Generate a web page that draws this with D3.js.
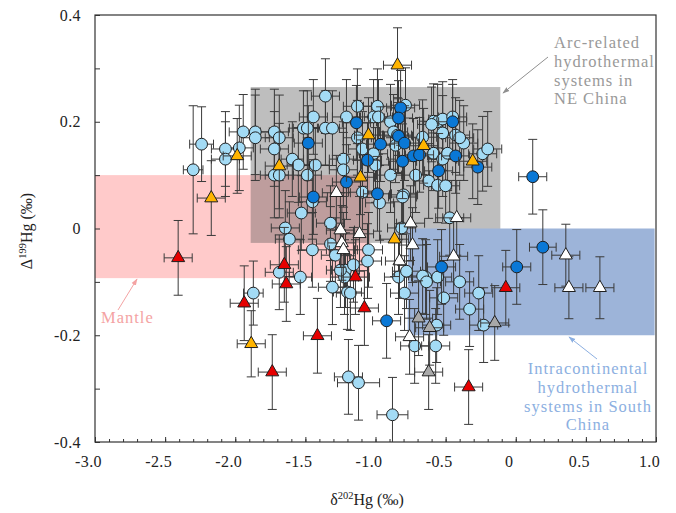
<!DOCTYPE html>
<html>
<head>
<meta charset="utf-8">
<script src="https://cdn.jsdelivr.net/npm/d3@7"></script>
<style>
  body { margin: 0; background: #fff; }
  svg { display: block; font-family: "Liberation Serif", "Times New Roman", serif; }
</style>
</head>
<body>
<div id="chart"></div>
<script>
// ---- data (delta202Hg, Delta199Hg, x error, y error) ----
var lightBlue = [
  [-2.24, 0.158, 0.085, 0.07], [-2.30, 0.110, 0.07, 0.12], [-2.07, 0.149, 0.10, 0.07], [-2.07, 0.130, 0.10, 0.07],
  [-1.943, 0.181, 0.10, 0.07], [-1.971, 0.151, 0.10, 0.08], [-1.857, 0.181, 0.10, 0.08], [-1.857, 0.170, 0.10, 0.08],
  [-1.721, 0.181, 0.10, 0.08], [-1.686, 0.170, 0.10, 0.08], [-1.721, 0.149, 0.10, 0.07], [-1.721, 0.100, 0.10, 0.08],
  [-1.686, 0.100, 0.10, 0.08], [-1.593, 0.130, 0.08, 0.07], [-1.55, 0.119, 0.08, 0.07], [-1.357, 0.248, 0.10, 0.07],
  [-1.443, 0.209, 0.10, 0.07], [-1.514, 0.188, 0.10, 0.07], [-1.486, 0.188, 0.10, 0.07], [-1.357, 0.188, 0.10, 0.07],
  [-1.307, 0.188, 0.10, 0.07], [-1.429, 0.119, 0.10, 0.07], [-1.486, 0.100, 0.10, 0.07], [-1.207, 0.209, 0.10, 0.07],
  [-1.229, 0.130, 0.10, 0.07], [-1.229, 0.110, 0.10, 0.07], [-1.129, 0.229, 0.10, 0.07], [-0.986, 0.229, 0.10, 0.07],
  [-1.014, 0.209, 0.10, 0.07], [-0.979, 0.209, 0.10, 0.07], [-0.786, 0.231, 0.10, 0.07], [-0.893, 0.200, 0.10, 0.07],
  [-0.871, 0.181, 0.10, 0.07], [-0.843, 0.175, 0.10, 0.07], [-0.586, 0.201, 0.10, 0.07], [-0.557, 0.200, 0.10, 0.07],
  [-0.521, 0.205, 0.10, 0.07], [-0.45, 0.209, 0.10, 0.07], [-0.521, 0.179, 0.10, 0.07], [-0.429, 0.175, 0.10, 0.07],
  [-0.371, 0.160, 0.10, 0.07], [-0.40, 0.170, 0.10, 0.07], [-1.129, 0.170, 0.10, 0.07], [-1.093, 0.149, 0.10, 0.07],
  [-1.014, 0.140, 0.10, 0.07], [-1.0, 0.119, 0.10, 0.07], [-0.893, 0.100, 0.10, 0.07], [-0.857, 0.156, 0.10, 0.07],
  [-0.714, 0.100, 0.10, 0.07], [-0.664, 0.171, 0.10, 0.07], [-0.621, 0.089, 0.10, 0.07], [-0.586, 0.141, 0.10, 0.07],
  [-0.521, 0.130, 0.10, 0.07], [-0.486, 0.141, 0.10, 0.07], [-0.557, 0.081, 0.10, 0.07], [-0.50, 0.080, 0.10, 0.07],
  [-0.236, 0.140, 0.10, 0.07], [-0.20, 0.149, 0.10, 0.07], [-0.80, 0.063, 0.10, 0.07], [-1.093, 0.068, 0.10, 0.07],
  [-0.60, 0.195, 0.10, 0.07], [-1.529, 0.029, 0.10, 0.07], [-1.643, 0.001, 0.10, 0.07], [-1.614, -0.020, 0.10, 0.07],
  [-1.321, 0.010, 0.10, 0.07], [-1.321, -0.029, 0.10, 0.07], [-1.286, -0.050, 0.10, 0.07], [-1.45, -0.040, 0.10, 0.07],
  [-1.686, -0.082, 0.10, 0.07], [-1.536, -0.091, 0.08, 0.07], [-1.307, -0.110, 0.10, 0.07], [-1.214, -0.078, 0.10, 0.07],
  [-1.221, -0.091, 0.10, 0.07], [-1.20, -0.119, 0.10, 0.07], [-1.871, -0.121, 0.07, 0.06], [-1.45, 0.050, 0.10, 0.07],
  [-0.971, 0.048, 0.10, 0.07], [-0.807, 0.059, 0.10, 0.07], [-0.471, 0.020, 0.10, 0.07], [-0.814, 0.001, 0.10, 0.07],
  [-1.05, -0.040, 0.10, 0.07], [-1.057, -0.061, 0.10, 0.07], [-1.157, -0.068, 0.10, 0.07], [-1.25, -0.078, 0.10, 0.07],
  [-0.836, -0.091, 0.10, 0.07], [-0.779, -0.080, 0.10, 0.07], [-0.643, -0.091, 0.10, 0.07], [-0.664, -0.089, 0.10, 0.07],
  [-0.557, -0.091, 0.10, 0.07], [-0.636, -0.100, 0.10, 0.07], [-0.40, -0.100, 0.10, 0.07], [-1.179, -0.121, 0.10, 0.07],
  [-0.793, -0.121, 0.10, 0.07], [-0.514, -0.130, 0.10, 0.07], [-0.264, -0.121, 0.10, 0.07], [-0.329, -0.151, 0.10, 0.07],
  [-0.229, -0.181, 0.10, 0.07], [-0.564, -0.181, 0.10, 0.07], [-0.721, -0.220, 0.10, 0.07], [-0.571, -0.220, 0.10, 0.07],
  [-1.193, -0.278, 0.10, 0.07], [-1.121, -0.289, 0.15, 0.07], [-0.879, -0.349, 0.11, 0.07]
];
var darkBlue = [
  [-1.479, 0.160, 0.10, 0.07], [-1.443, 0.059, 0.10, 0.07], [-1.207, 0.087, 0.10, 0.07], [-1.136, 0.198, 0.10, 0.07],
  [-0.821, 0.226, 0.10, 0.07], [-0.836, 0.207, 0.10, 0.07], [-0.836, 0.173, 0.10, 0.07], [-0.793, 0.160, 0.10, 0.07],
  [-0.964, 0.158, 0.10, 0.07], [-1.057, 0.128, 0.10, 0.07], [-0.807, 0.126, 0.10, 0.07], [-0.729, 0.136, 0.10, 0.07],
  [-0.686, 0.138, 0.10, 0.07], [-0.45, 0.200, 0.10, 0.07], [-0.429, 0.136, 0.10, 0.07], [-0.55, 0.108, 0.10, 0.07],
  [-0.271, 0.115, 0.10, 0.07], [-0.986, 0.065, 0.10, 0.07], [0.121, 0.097, 0.10, 0.07], [0.193, -0.035, 0.095, 0.07],
  [0.007, -0.072, 0.10, 0.07], [-0.529, -0.072, 0.10, 0.07], [-0.921, -0.173, 0.10, 0.07]
];
var orangeTri = [
  [-1.986, 0.136, 0.10, 0.07], [-2.171, 0.057, 0.10, 0.07], [-1.686, 0.117, 0.10, 0.08], [-0.843, 0.306, 0.10, 0.07],
  [-1.05, 0.175, 0.10, 0.07], [-0.657, 0.155, 0.10, 0.07], [-0.307, 0.126, 0.10, 0.07], [-1.107, 0.096, 0.10, 0.07],
  [-0.864, -0.020, 0.10, 0.07], [-1.886, -0.216, 0.10, 0.062]
];
var redTri = [
  [-2.407, -0.055, 0.10, 0.07], [-1.65, -0.068, 0.10, 0.07], [-1.636, -0.104, 0.10, 0.07], [-1.936, -0.140, 0.10, 0.07],
  [-1.414, -0.201, 0.10, 0.07], [-1.736, -0.269, 0.10, 0.07], [-1.143, -0.091, 0.10, 0.07], [-1.079, -0.149, 0.10, 0.07],
  [-0.071, -0.111, 0.10, 0.07], [-0.336, -0.297, 0.10, 0.07]
];
var whiteTri = [
  [-1.279, 0.067, 0.10, 0.07], [-1.25, -0.003, 0.10, 0.07], [-1.114, -0.010, 0.10, 0.07], [-1.24, -0.027, 0.10, 0.07],
  [-1.229, -0.040, 0.10, 0.07], [-0.443, -0.052, 0.10, 0.07], [-0.75, 0.010, 0.10, 0.07], [-0.736, -0.031, 0.10, 0.07],
  [-0.829, -0.061, 0.10, 0.07], [-0.757, -0.203, 0.10, 0.07], [-0.421, 0.020, 0.10, 0.07], [0.357, -0.050, 0.10, 0.058],
  [0.379, -0.111, 0.10, 0.058], [0.60, -0.111, 0.10, 0.058]
];
var greyTri = [
  [-0.693, -0.168, 0.10, 0.07], [-0.614, -0.186, 0.10, 0.07], [-0.15, -0.177, 0.10, 0.07], [-0.621, -0.269, 0.10, 0.07]
];

// field boxes [x0, x1, y0, y1]
var mantleBox = [-3.0, -1.04, -0.093, 0.10];
var arcBox = [-1.89, -0.11, -0.027, 0.265];
var southBox = [-0.77, 0.99, -0.20, 0.0];

var xTickValues = [-3, -2.5, -2, -1.5, -1, -0.5, 0, 0.5, 1];
var xTickLabels = ["-3.0", "-2.5", "-2.0", "-1.5", "-1.0", "-0.5", "0", "0.5", "1.0"];
var yTickValues = [-0.4, -0.2, 0, 0.2, 0.4];
var yTickLabels = ["-0.4", "-0.2", "0", "0.2", "0.4"];

var arcLines = ["Arc-related", "hydrothermal", "systems in", "NE China"];
var southLines = ["Intracontinental", "hydrothermal", "systems in South", "China"];

// ---- chart ----
var width = 676, height = 513;
var x = d3.scaleLinear().domain([-3, 1]).range([95, 656]);
var y = d3.scaleLinear().domain([-0.4, 0.4]).range([442, 15]);

var svg = d3.select("#chart").append("svg")
    .attr("width", width)
    .attr("height", height);

var defs = svg.append("defs");
defs.append("clipPath").attr("id", "plotClip")
    .append("rect")
    .attr("x", x(-3)).attr("y", y(0.4))
    .attr("width", x(1) - x(-3)).attr("height", y(-0.4) - y(0.4));

function arrowMarker(id, color) {
    defs.append("marker")
        .attr("id", id)
        .attr("viewBox", "0 0 10 10")
        .attr("refX", 9).attr("refY", 5)
        .attr("markerWidth", 7).attr("markerHeight", 7)
        .attr("orient", "auto")
        .append("path")
        .attr("d", "M0,1.5 L10,5 L0,8.5 Z")
        .attr("fill", color);
}
arrowMarker("arrGrey", "#8f8f8f");
arrowMarker("arrPink", "#f4a3a3");
arrowMarker("arrBlue", "#8cafe1");

// boxes
var boxes = svg.append("g").attr("clip-path", "url(#plotClip)");
function box(b, fill, op) {
    boxes.append("rect")
        .attr("x", x(b[0])).attr("y", y(b[3]))
        .attr("width", x(b[1]) - x(b[0]))
        .attr("height", y(b[2]) - y(b[3]))
        .attr("fill", fill)
        .attr("opacity", op);
}
box(mantleBox, "#ffcaca", 1);
box(arcBox, "#555555", 0.38);
box(southBox, "#9db4d9", 1);

// axes
var xAxis = d3.axisBottom(x).tickValues(xTickValues).tickSize(-5)
    .tickFormat(function(d, i) { return xTickLabels[i]; }).tickPadding(14);
var xMinor = d3.axisBottom(x).ticks(40).tickSize(-3).tickFormat("");
var yAxis = d3.axisLeft(y).ticks(8).tickSize(-5)
    .tickFormat(function(d) {
        var i = yTickValues.findIndex(function(v) { return Math.abs(v - d) < 1e-9; });
        return i >= 0 ? yTickLabels[i] : "";
    }).tickPadding(14);

var gx = svg.append("g").attr("transform", "translate(0," + y(-0.4) + ")").call(xMinor);
var gx2 = svg.append("g").attr("transform", "translate(0," + y(-0.4) + ")").call(xAxis);
var gy = svg.append("g").attr("transform", "translate(" + x(-3) + ",0)").call(yAxis);

[gx, gx2, gy].forEach(function(g) {
    g.selectAll(".domain").remove();
    g.selectAll(".tick line").attr("stroke", "#333");
    g.selectAll("text").attr("font-family", "Liberation Serif, serif")
        .attr("font-size", 16).attr("fill", "#222")
        .attr("letter-spacing", "0.4px");
});
gx2.selectAll("text").attr("dx", -7);

// frame
svg.append("rect")
    .attr("x", x(-3)).attr("y", y(0.4))
    .attr("width", x(1) - x(-3)).attr("height", y(-0.4) - y(0.4))
    .attr("fill", "none").attr("stroke", "#333").attr("stroke-width", 1.2);

// data
var plot = svg.append("g").attr("clip-path", "url(#plotClip)");

function triPath(cx, cy) {
    var s = 13, h = s * Math.sqrt(3) / 2;
    return "M" + cx + "," + (cy - 2 * h / 3) +
        "L" + (cx + s / 2) + "," + (cy + h / 3) +
        "L" + (cx - s / 2) + "," + (cy + h / 3) + "Z";
}

function drawSeries(data, shape, fill) {
    var g = plot.append("g");
    var eb = g.selectAll("g.err").data(data).enter().append("g")
        .attr("stroke", "#3a3a3a").attr("stroke-width", 1);
    var cap = 4.5;
    eb.append("line")
        .attr("x1", function(d) { return x(d[0] - d[2]); })
        .attr("x2", function(d) { return x(d[0] + d[2]); })
        .attr("y1", function(d) { return y(d[1]); })
        .attr("y2", function(d) { return y(d[1]); });
    eb.append("line")
        .attr("x1", function(d) { return x(d[0]); })
        .attr("x2", function(d) { return x(d[0]); })
        .attr("y1", function(d) { return y(d[1] - d[3]); })
        .attr("y2", function(d) { return y(d[1] + d[3]); });
    [-1, 1].forEach(function(sg) {
        eb.append("line")
            .attr("x1", function(d) { return x(d[0] + sg * d[2]); })
            .attr("x2", function(d) { return x(d[0] + sg * d[2]); })
            .attr("y1", function(d) { return y(d[1]) - cap; })
            .attr("y2", function(d) { return y(d[1]) + cap; });
        eb.append("line")
            .attr("x1", function(d) { return x(d[0]) - cap; })
            .attr("x2", function(d) { return x(d[0]) + cap; })
            .attr("y1", function(d) { return y(d[1] + sg * d[3]); })
            .attr("y2", function(d) { return y(d[1] + sg * d[3]); });
    });
    if (shape === "circle") {
        g.selectAll("circle").data(data).enter().append("circle")
            .attr("cx", function(d) { return x(d[0]); })
            .attr("cy", function(d) { return y(d[1]); })
            .attr("r", 5.9)
            .attr("fill", fill).attr("stroke", "#1e1e1e").attr("stroke-width", 1);
    } else {
        g.selectAll("path.tri").data(data).enter().append("path")
            .attr("d", function(d) { return triPath(x(d[0]), y(d[1])); })
            .attr("fill", fill).attr("stroke", "#1e1e1e").attr("stroke-width", 1);
    }
}

drawSeries(lightBlue, "circle", "#a3dbf5");
drawSeries(darkBlue, "circle", "#0a78d6");
drawSeries(greyTri, "tri", "#a9a9a9");
drawSeries(whiteTri, "tri", "#ffffff");
drawSeries(orangeTri, "tri", "#ffb400");
drawSeries(redTri, "tri", "#e60000");

// annotations
var arcText = svg.append("text")
    .attr("font-size", 16.5).attr("fill", "#999").attr("letter-spacing", "1px");
arcLines.forEach(function(t, i) {
    arcText.append("tspan").attr("x", 554).attr("y", 48 + i * 18.8).text(t);
});
svg.append("line")
    .attr("x1", 548).attr("y1", 57).attr("x2", 503).attr("y2", 93)
    .attr("stroke", "#8f8f8f").attr("stroke-width", 1)
    .attr("marker-end", "url(#arrGrey)");

svg.append("text")
    .attr("x", 101).attr("y", 323)
    .attr("font-size", 16.5).attr("fill", "#f4a3a3").attr("letter-spacing", "1px")
    .text("Mantle");
svg.append("line")
    .attr("x1", 118).attr("y1", 310).attr("x2", 137).attr("y2", 279)
    .attr("stroke", "#f4a3a3").attr("stroke-width", 1)
    .attr("marker-end", "url(#arrPink)");

var southText = svg.append("text")
    .attr("font-size", 16.5).attr("fill", "#8cafe1").attr("letter-spacing", "1px")
    .attr("text-anchor", "middle");
southLines.forEach(function(t, i) {
    southText.append("tspan").attr("x", 588).attr("y", 374 + i * 18.8).text(t);
});
svg.append("line")
    .attr("x1", 597).attr("y1", 359).attr("x2", 569).attr("y2", 337)
    .attr("stroke", "#8cafe1").attr("stroke-width", 1)
    .attr("marker-end", "url(#arrBlue)");

// axis titles
var xt = svg.append("text")
    .attr("x", 367).attr("y", 505)
    .attr("text-anchor", "middle").attr("font-size", 16).attr("fill", "#222");
xt.append("tspan").text("\u03b4");
xt.append("tspan").attr("font-size", 10.5).attr("dy", -6).text("202");
xt.append("tspan").attr("dy", 6).text("Hg (\u2030)");

var yt = svg.append("text")
    .attr("transform", "translate(32,231) rotate(-90)")
    .attr("text-anchor", "middle").attr("font-size", 16).attr("fill", "#222");
yt.append("tspan").text("\u0394");
yt.append("tspan").attr("font-size", 10.5).attr("dy", -6).text("199");
yt.append("tspan").attr("dy", 6).text("Hg (\u2030)");
</script>
</body>
</html>
